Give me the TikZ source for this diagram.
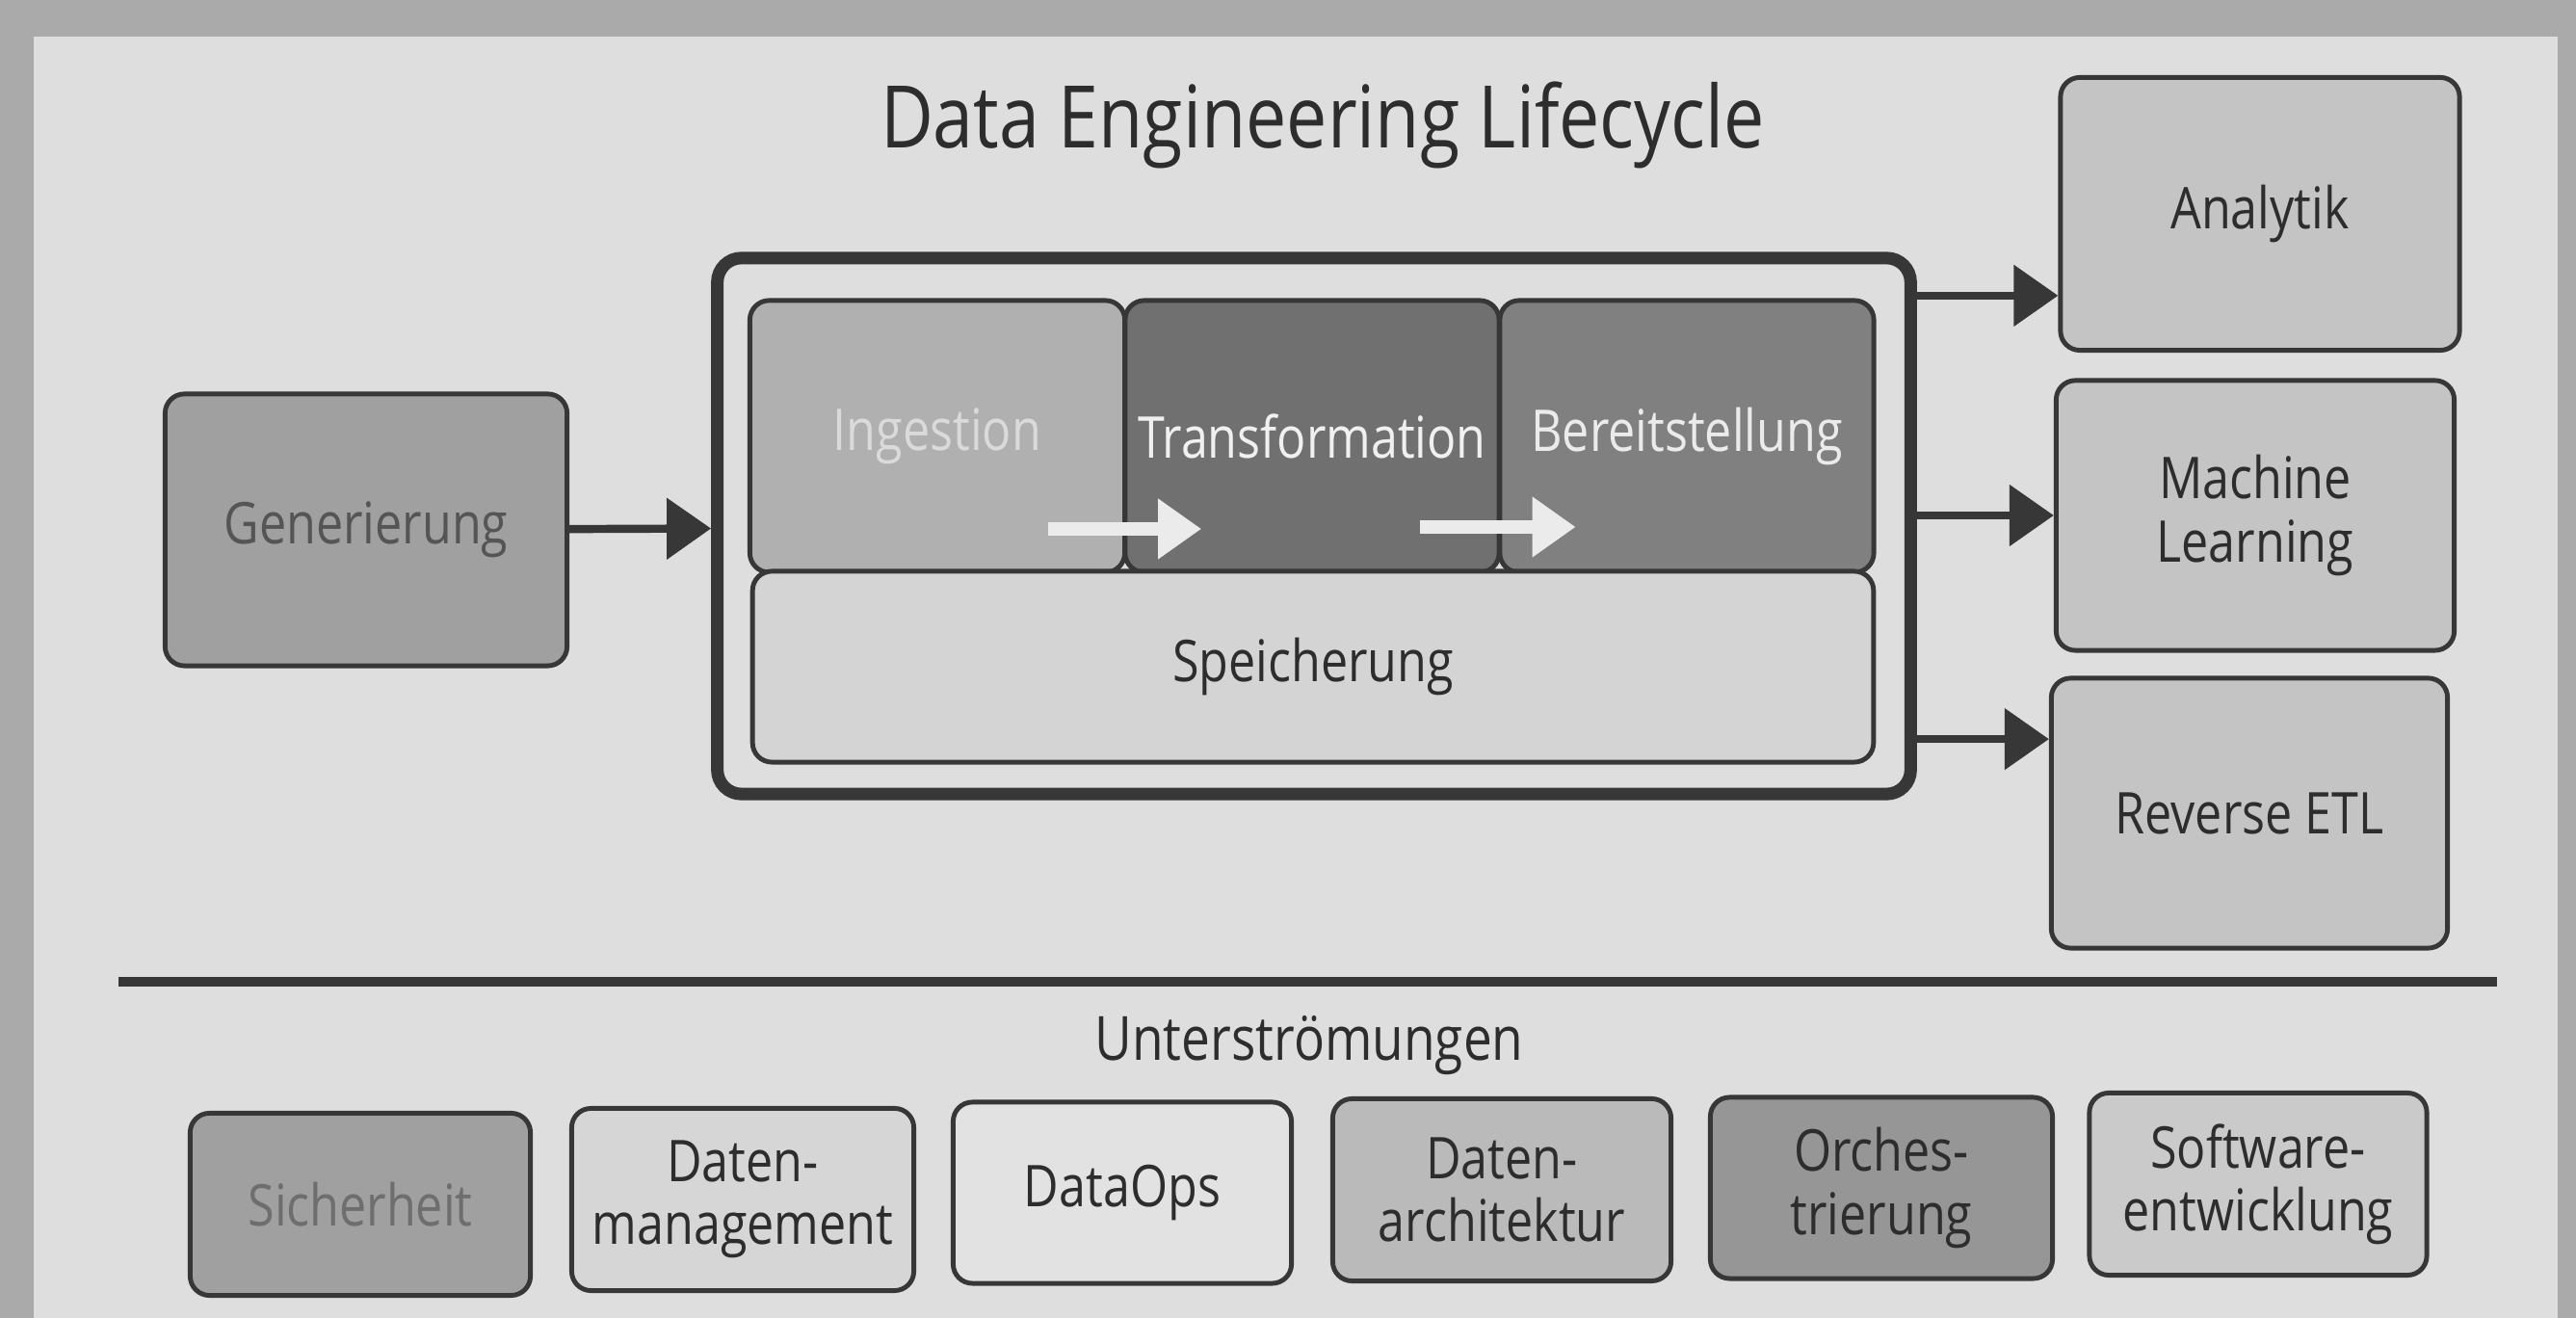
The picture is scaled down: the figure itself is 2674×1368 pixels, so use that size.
\documentclass[tikz,border=0pt]{standalone}
\usepackage{fontspec}
\setmainfont{Open Sans}[FakeStretch=0.84]
\usetikzlibrary{arrows.meta}

\definecolor{pagebg}{RGB}{222,222,222}
\definecolor{photobg}{RGB}{170,170,170}
\definecolor{lineclr}{RGB}{55,55,55}
\definecolor{txtdark}{RGB}{45,45,45}

\begin{document}
\begin{tikzpicture}[x=0.01cm, y=-0.01cm,
    box/.style = {draw=lineclr, line width=1.4pt, rounded corners=0.2cm,
                  align=center, inner sep=0pt, text=txtdark,
                  font=\fontsize{17}{18.5}\selectfont},
    flow/.style = {draw=lineclr, line width=2.4pt,
                   -{Triangle[length=0.46cm,width=0.62cm]}},
    innerflow/.style = {draw={rgb,255:red,235;green,235;blue,235}, line width=4pt,
                        -{Triangle[length=0.45cm,width=0.6cm]}}]

    % photo + page
    \useasboundingbox (0,0) rectangle (2674,1368);
    \fill[photobg] (0,0) rectangle (2674,1368);
    \fill[pagebg] (35,38) rectangle (2655,1368);

    \node[text=txtdark, font=\fontsize{25.5}{28}\selectfont] (title) at (1373,130) {Data Engineering Lifecycle};

    % lifecycle
    \node[box, fill={rgb,255:red,160;green,160;blue,160}, text={rgb,255:red,85;green,85;blue,85},
          minimum width=4.17cm, minimum height=2.82cm] (gen) at (380,550) {Generierung};
    \node[draw=lineclr, line width=3.7pt, rounded corners=0.25cm,
          minimum width=12.38cm, minimum height=5.56cm] (cycle) at (1364,546) {};

    \node[box, fill={rgb,255:red,176;green,176;blue,176}, text={rgb,255:red,218;green,218;blue,218},
          minimum width=3.89cm, minimum height=2.82cm] (ingest) at (973,453) {Ingestion};
    \node[box, fill={rgb,255:red,112;green,112;blue,112}, text={rgb,255:red,240;green,240;blue,240},
          minimum width=3.88cm, minimum height=2.82cm] (transform) at (1362,453) {Transformation};
    \node[box, fill={rgb,255:red,128;green,128;blue,128}, text={rgb,255:red,235;green,235;blue,235},
          minimum width=3.88cm, minimum height=2.82cm] (serve) at (1751,453) {Bereitstellung};
    \node[box, fill={rgb,255:red,212;green,212;blue,212},
          minimum width=11.63cm, minimum height=1.98cm] (store) at (1363,692) {Speicherung};

    \draw[innerflow] (ingest.east) ++(-82,96) -- ++(159,0);
    \draw[innerflow] (transform.east) ++(-85,94) -- ++(162,0);

    \draw[flow] (gen) -- (cycle);

    % outputs
    \node[box, fill={rgb,255:red,196;green,196;blue,196},
          minimum width=4.14cm, minimum height=2.83cm] (analytics) at (2346,222) {Analytik};
    \node[box, fill={rgb,255:red,196;green,196;blue,196},
          minimum width=4.13cm, minimum height=2.80cm] (ml) at (2341,535) {Machine\\Learning};
    \node[box, fill={rgb,255:red,196;green,196;blue,196},
          minimum width=4.11cm, minimum height=2.80cm] (retl) at (2335,844) {Reverse ETL};

    \draw[flow] ([yshift=2.39cm]cycle.east) coordinate (o1) -- (o1 -| analytics.west);
    \draw[flow] ([yshift=0.11cm]cycle.east) coordinate (o2) -- (o2 -| ml.west);
    \draw[flow] ([yshift=-2.21cm]cycle.east) coordinate (o3) -- (o3 -| retl.west);

    % undercurrents
    \coordinate (rulel) at (123,1019);
    \coordinate (ruler) at (2592,1019);
    \draw[lineclr, line width=2.8pt] (rulel) -- (ruler);
    \node[text=txtdark, font=\fontsize{18}{20}\selectfont] (under) at (1359,1085) {Unterströmungen};

    \node[box, fill={rgb,255:red,160;green,160;blue,160}, text={rgb,255:red,110;green,110;blue,110},
          minimum width=3.53cm, minimum height=1.89cm] (sec) at (374,1250) {Sicherheit};
    \node[box, fill={rgb,255:red,214;green,214;blue,214},
          minimum width=3.55cm, minimum height=1.89cm] (dm) at (771,1245) {Daten-\\management};
    \node[box, fill={rgb,255:red,226;green,226;blue,226},
          minimum width=3.51cm, minimum height=1.88cm] (dataops) at (1165,1238) {DataOps};
    \node[box, fill={rgb,255:red,186;green,186;blue,186},
          minimum width=3.51cm, minimum height=1.89cm] (arch) at (1559,1235) {Daten-\\architektur};
    \node[box, fill={rgb,255:red,150;green,150;blue,150},
          minimum width=3.55cm, minimum height=1.88cm] (orch) at (1953,1233) {Orches-\\trierung};
    \node[box, fill={rgb,255:red,202;green,202;blue,202},
          minimum width=3.50cm, minimum height=1.89cm] (swe) at (2344,1229) {Software-\\entwicklung};
\end{tikzpicture}
\end{document}
